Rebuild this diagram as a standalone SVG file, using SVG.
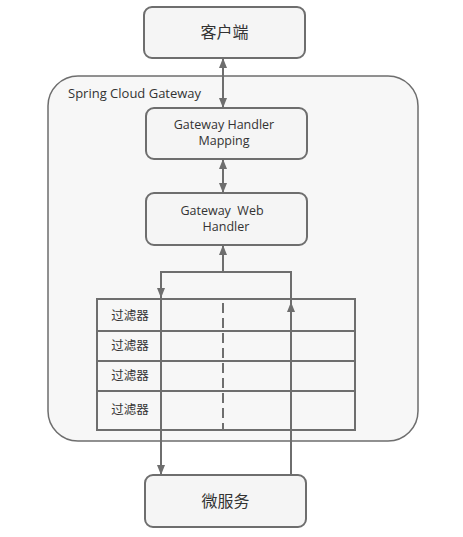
<svg xmlns="http://www.w3.org/2000/svg" width="463" height="537" viewBox="0 0 463 537">
<style>
.box{fill:#f5f5f5;stroke:#6e6e6e;stroke-width:2}
.ln{fill:none;stroke:#6e6e6e;stroke-width:2}
.t{font-family:"Open Sans","Noto Sans CJK SC",sans-serif;fill:#333;text-anchor:middle}
</style>
<defs>
<marker id="ah" viewBox="0 0 10 8" refX="10" refY="4" markerWidth="10" markerHeight="8" orient="auto-start-reverse" markerUnits="userSpaceOnUse">
<path d="M0,0 L10,4 L0,8 z" fill="#6e6e6e"/>
</marker>
</defs>
<rect width="463" height="537" fill="#fff"/>
<g id="gateway">
<rect x="48" y="76" width="370" height="365" rx="30" fill="#f7f7f7" stroke="#6e6e6e" stroke-width="1.5"/>
<text x="68" y="98" class="t" style="text-anchor:start;font-size:13px">Spring Cloud Gateway</text>
</g>
<g id="client">
<rect class="box" x="144" y="7" width="161" height="51" rx="8"/>
<text class="t" x="224.5" y="38" font-size="16">客户端</text>
</g>
<g id="mapping">
<rect class="box" x="146" y="108" width="161" height="51" rx="8"/>
<text class="t" x="224" y="129" font-size="12.5">Gateway Handler</text>
<text class="t" x="224" y="145" font-size="12.5">Mapping</text>
</g>
<g id="webhandler">
<rect class="box" x="146" y="193" width="161" height="52" rx="8"/>
<text class="t" x="222" y="215" font-size="12.5" xml:space="preserve">Gateway  Web</text>
<text class="t" x="226" y="231" font-size="12.5">Handler</text>
</g>
<g id="filters">
<rect x="97" y="299" width="258" height="131" fill="#f7f7f7" stroke="#6e6e6e" stroke-width="2"/>
<line class="ln" x1="97" y1="331" x2="355" y2="331"/>
<line class="ln" x1="97" y1="361" x2="355" y2="361"/>
<line class="ln" x1="97" y1="391" x2="355" y2="391"/>
<line class="ln" x1="223" y1="303" x2="223" y2="430" stroke-dasharray="10,5"/>
<text class="t" x="130" y="320" font-size="12.5">过滤器</text>
<text class="t" x="130" y="350" font-size="12.5">过滤器</text>
<text class="t" x="130" y="380" font-size="12.5">过滤器</text>
<text class="t" x="130" y="414" font-size="12.5">过滤器</text>
</g>
<g id="microservice">
<rect class="box" x="145" y="475" width="161" height="52" rx="8"/>
<text class="t" x="225.5" y="507" font-size="16">微服务</text>
</g>
<g id="connectors">
<line class="ln" x1="223" y1="58" x2="223" y2="108" marker-start="url(#ah)" marker-end="url(#ah)"/>
<line class="ln" x1="223" y1="159" x2="223" y2="193" marker-start="url(#ah)" marker-end="url(#ah)"/>
<line class="ln" x1="223" y1="272" x2="223" y2="245" marker-end="url(#ah)"/>
<polyline class="ln" points="161,290 161,272 291,272 291,305"/>
<line class="ln" x1="161" y1="280" x2="161" y2="298" marker-end="url(#ah)"/>
<line class="ln" x1="161" y1="299" x2="161" y2="475" marker-end="url(#ah)"/>
<line class="ln" x1="291" y1="475" x2="291" y2="302" marker-end="url(#ah)"/>
</g>
</svg>
